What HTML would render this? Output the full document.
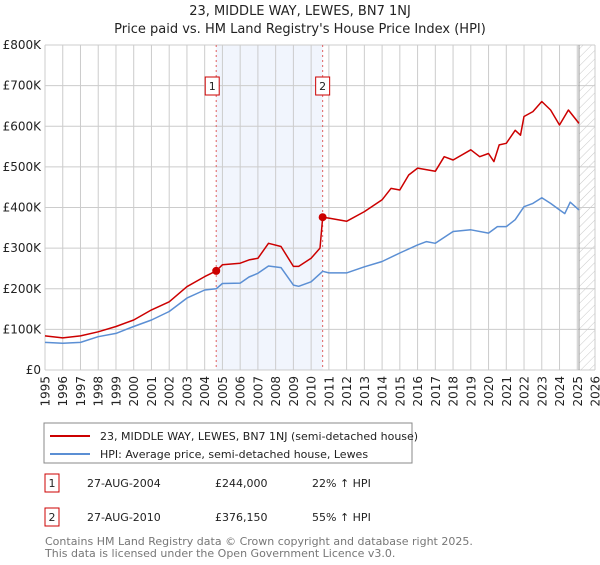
<!DOCTYPE html>
<html><head><meta charset="utf-8"><style>
body{margin:0;background:#fff;font-family:"Liberation Sans","DejaVu Sans",sans-serif;}
svg text{font-family:"DejaVu Sans","Liberation Sans",sans-serif;}
</style></head><body>
<svg id="c" width="600" height="560" xmlns="http://www.w3.org/2000/svg">
<defs><pattern id="hatch" width="6" height="6" patternUnits="userSpaceOnUse" patternTransform="rotate(45)"><line x1="0" y1="0" x2="0" y2="6" stroke="#bbb" stroke-width="0.8"/></pattern></defs>
<text x="300" y="15" text-anchor="middle" font-size="13" fill="#222">23, MIDDLE WAY, LEWES, BN7 1NJ</text>
<text x="300" y="33" text-anchor="middle" font-size="13" fill="#222">Price paid vs. HM Land Registry's House Price Index (HPI)</text>
<g id="plot"></g>
<rect x="44" y="423" width="368" height="40" fill="#fff" stroke="#888"/>
<line x1="50" y1="436" x2="90" y2="436" stroke="#cc0000" stroke-width="2"/>
<text x="100" y="440" font-size="11" fill="#222">23, MIDDLE WAY, LEWES, BN7 1NJ (semi-detached house)</text>
<line x1="50" y1="454" x2="90" y2="454" stroke="#5b8fd4" stroke-width="2"/>
<text x="100" y="458" font-size="11" fill="#222">HPI: Average price, semi-detached house, Lewes</text>
<rect x="45" y="474" width="14" height="18" fill="#fff" stroke="#c00"/>
<text x="52" y="487" text-anchor="middle" font-size="11" fill="#222">1</text>
<text x="87" y="487" font-size="11" fill="#222">27-AUG-2004</text>
<text x="215" y="487" font-size="11" fill="#222">£244,000</text>
<text x="312" y="487" font-size="11" fill="#222">22% ↑ HPI</text>
<rect x="45" y="508" width="14" height="18" fill="#fff" stroke="#c00"/>
<text x="52" y="521" text-anchor="middle" font-size="11" fill="#222">2</text>
<text x="87" y="521" font-size="11" fill="#222">27-AUG-2010</text>
<text x="215" y="521" font-size="11" fill="#222">£376,150</text>
<text x="312" y="521" font-size="11" fill="#222">55% ↑ HPI</text>
<text x="45" y="545" font-size="11" fill="#777">Contains HM Land Registry data © Crown copyright and database right 2025.</text>
<text x="45" y="557" font-size="11" fill="#777">This data is licensed under the Open Government Licence v3.0.</text>
</svg>
<script>
const hpiYears=[1995,1996,1997,1998,1999,2000,2001,2002,2003,2004,2004.65,2005,2006,2006.5,2007,2007.6,2008.3,2009,2009.3,2010,2010.65,2011,2012,2013,2014,2015,2016,2016.5,2017,2018,2019,2020,2020.5,2021,2021.5,2022,2022.5,2023,2023.5,2024,2024.3,2024.6,2025.1];
const hpiValues=[68,66,68,82,90,107,123,144,177,197,200,213,214,229,238,256,252,209,206,217,243,239,239,254,267,288,308,316,312,341,345,337,353,353,370,402,410,424,410,394,385,413,394];
const propYears=[1995,1996,1997,1998,1999,2000,2001,2002,2003,2004,2004.65,2005,2006,2006.5,2007,2007.6,2008.3,2009,2009.3,2010,2010.5,2010.65,2011,2012,2013,2014,2014.5,2015,2015.5,2016,2017,2017.5,2018,2019,2019.5,2020,2020.3,2020.6,2021,2021.5,2021.8,2022,2022.5,2023,2023.5,2024,2024.5,2025.1];
const propValues=[84,79,84,94,107,123,148,168,205,230,244,259,263,271,275,312,304,255,255,275,300,376,374,366,390,419,447,443,480,497,489,525,517,542,525,533,513,554,558,590,578,624,636,661,640,603,640,607];
const saleYears=[2004.65,2010.65];
const saleValues=[244,376.15];
const yTicks=[0,100,200,300,400,500,600,700,800];
const yTickLabels=["£0","£100K","£200K","£300K","£400K","£500K","£600K","£700K","£800K"];
const xTicks=[];for(let y=1995;y<=2026;y++)xTicks.push(y);
const X0=45,X1=595,Y0=370,Y1=45;
const xs=y=>X0+(y-1995)/31*(X1-X0);
const ys=v=>Y0-v/800*(Y0-Y1);
const NS="http://www.w3.org/2000/svg";
const g=document.getElementById('plot');
function mk(t,a,p){const e=document.createElementNS(NS,t);for(const k in a)e.setAttribute(k,a[k]);(p||g).appendChild(e);return e;}
let e;
e=mk('rect',{x:xs(saleYears[0]),y:Y1,width:xs(saleYears[1])-xs(saleYears[0]),height:Y0-Y1,fill:'#eef3fc',opacity:0.8});


e=mk('rect',{x:xs(2025.1),y:Y1,width:X1-xs(2025.1),height:Y0-Y1,fill:'url(#hatch)'});


xTicks.forEach(t=>{
 e=mk('line',{x1:xs(t),x2:xs(t),y1:Y1,y2:Y0,stroke:'#ccc','stroke-width':1});
 
 
 const gg=mk('g',{transform:'translate('+(xs(t)+4.5)+','+(Y0+6)+')'});
 e=mk('text',{x:0,y:0,transform:'rotate(-90)','text-anchor':'end','font-size':12,fill:'#222'},gg);
 e.textContent=t;
 
 
});
yTicks.forEach((t,i)=>{
 e=mk('line',{x1:X0,x2:X1,y1:ys(t),y2:ys(t),stroke:'#ccc','stroke-width':1});
 
 
 e=mk('text',{x:X0-4,y:ys(t)+4,'text-anchor':'end','font-size':12,fill:'#222'});
 e.textContent=yTickLabels[i];
 
 
});
e=mk('line',{x1:xs(2025.1),x2:xs(2025.1),y1:Y1,y2:Y0,stroke:'#999','stroke-width':1});


saleYears.forEach((s,i)=>{
 e=mk('line',{x1:xs(s),x2:xs(s),y1:Y1,y2:Y0,stroke:'#e06060','stroke-width':1,'stroke-dasharray':'2,3'});
 
 
 e=mk('rect',{x:xs(s)-7-(i==0?4:0),y:77,width:14,height:18,fill:'#fff',stroke:'#c00'});
 
 
 e=mk('text',{x:xs(s)-(i==0?4:0),y:90,'text-anchor':'middle','font-size':11,fill:'#222'});
 e.textContent=String(i+1);
 
 
});
const pts=(a,b)=>a.map((y,i)=>xs(y).toFixed(1)+','+ys(b[i]).toFixed(1)).join(' ');
e=mk('polyline',{points:pts(hpiYears,hpiValues),fill:'none',stroke:'#5b8fd4','stroke-width':1.5,'stroke-linejoin':'round'});


e=mk('polyline',{points:pts(propYears,propValues),fill:'none',stroke:'#cc0000','stroke-width':1.5,'stroke-linejoin':'round'});


saleYears.forEach((s,i)=>{
 e=mk('circle',{cx:xs(s),cy:ys(saleValues[i]),r:4,fill:'#cc0000'});
 
 
});
</script>
</body></html>
